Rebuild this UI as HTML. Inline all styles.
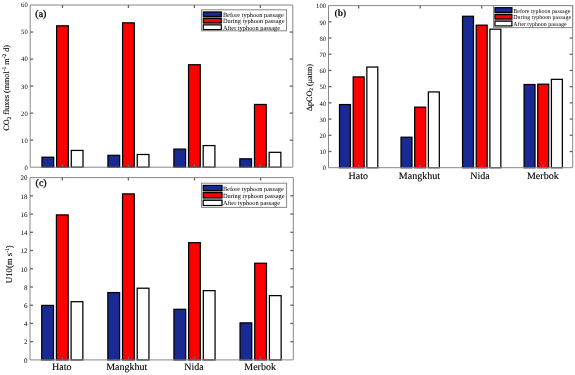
<!DOCTYPE html>
<html><head><meta charset="utf-8"><style>
html,body{margin:0;padding:0;background:#fff;}
body{width:575px;height:375px;overflow:hidden;}
svg{display:block;font-family:"Liberation Serif", serif;}
text{filter:grayscale(1);text-rendering:geometricPrecision;}
</style></head><body>
<svg width="575" height="375" viewBox="0 0 575 375" font-family='"Liberation Serif", serif'>
<rect x="0" y="0" width="575" height="375" fill="#fff"/>
<rect x="41.98" y="157.20" width="11.72" height="10.00" fill="#192a92" stroke="#000" stroke-width="1.25"/>
<rect x="56.64" y="25.82" width="11.72" height="141.38" fill="#ff0000" stroke="#000" stroke-width="1.25"/>
<rect x="71.29" y="150.44" width="11.72" height="16.76" fill="#ffffff" stroke="#000" stroke-width="1.25"/>
<rect x="107.93" y="155.31" width="11.72" height="11.89" fill="#192a92" stroke="#000" stroke-width="1.25"/>
<rect x="122.59" y="22.84" width="11.72" height="144.36" fill="#ff0000" stroke="#000" stroke-width="1.25"/>
<rect x="137.24" y="154.49" width="11.72" height="12.71" fill="#ffffff" stroke="#000" stroke-width="1.25"/>
<rect x="173.88" y="149.09" width="11.72" height="18.11" fill="#192a92" stroke="#000" stroke-width="1.25"/>
<rect x="188.54" y="64.74" width="11.72" height="102.46" fill="#ff0000" stroke="#000" stroke-width="1.25"/>
<rect x="203.19" y="145.57" width="11.72" height="21.63" fill="#ffffff" stroke="#000" stroke-width="1.25"/>
<rect x="239.83" y="158.82" width="11.72" height="8.38" fill="#192a92" stroke="#000" stroke-width="1.25"/>
<rect x="254.49" y="104.48" width="11.72" height="62.72" fill="#ff0000" stroke="#000" stroke-width="1.25"/>
<rect x="269.14" y="152.33" width="11.72" height="14.87" fill="#ffffff" stroke="#000" stroke-width="1.25"/>
<line x1="30.20" y1="5.00" x2="292.80" y2="5.00" stroke="#888888" stroke-width="1.0"/>
<line x1="30.20" y1="167.20" x2="292.80" y2="167.20" stroke="#888888" stroke-width="1.0"/>
<line x1="30.20" y1="5.00" x2="30.20" y2="167.20" stroke="#888888" stroke-width="1.0"/>
<line x1="292.80" y1="5.00" x2="292.80" y2="167.20" stroke="#888888" stroke-width="1.0"/>
<text x="27.70" y="169.63" font-size="6.6" text-anchor="end" font-weight="normal" >0</text>
<line x1="30.20" y1="140.17" x2="33.20" y2="140.17" stroke="#666666" stroke-width="1.3"/>
<line x1="292.80" y1="140.17" x2="289.80" y2="140.17" stroke="#666666" stroke-width="1.3"/>
<text x="27.70" y="142.59" font-size="6.6" text-anchor="end" font-weight="normal" >10</text>
<line x1="30.20" y1="113.13" x2="33.20" y2="113.13" stroke="#666666" stroke-width="1.3"/>
<line x1="292.80" y1="113.13" x2="289.80" y2="113.13" stroke="#666666" stroke-width="1.3"/>
<text x="27.70" y="115.56" font-size="6.6" text-anchor="end" font-weight="normal" >20</text>
<line x1="30.20" y1="86.10" x2="33.20" y2="86.10" stroke="#666666" stroke-width="1.3"/>
<line x1="292.80" y1="86.10" x2="289.80" y2="86.10" stroke="#666666" stroke-width="1.3"/>
<text x="27.70" y="88.53" font-size="6.6" text-anchor="end" font-weight="normal" >30</text>
<line x1="30.20" y1="59.07" x2="33.20" y2="59.07" stroke="#666666" stroke-width="1.3"/>
<line x1="292.80" y1="59.07" x2="289.80" y2="59.07" stroke="#666666" stroke-width="1.3"/>
<text x="27.70" y="61.49" font-size="6.6" text-anchor="end" font-weight="normal" >40</text>
<line x1="30.20" y1="32.03" x2="33.20" y2="32.03" stroke="#666666" stroke-width="1.3"/>
<line x1="292.80" y1="32.03" x2="289.80" y2="32.03" stroke="#666666" stroke-width="1.3"/>
<text x="27.70" y="34.46" font-size="6.6" text-anchor="end" font-weight="normal" >50</text>
<text x="27.70" y="7.43" font-size="6.6" text-anchor="end" font-weight="normal" >60</text>
<line x1="62.50" y1="167.20" x2="62.50" y2="164.20" stroke="#666666" stroke-width="1.3"/>
<line x1="62.50" y1="5.00" x2="62.50" y2="8.00" stroke="#666666" stroke-width="1.3"/>
<line x1="128.45" y1="167.20" x2="128.45" y2="164.20" stroke="#666666" stroke-width="1.3"/>
<line x1="128.45" y1="5.00" x2="128.45" y2="8.00" stroke="#666666" stroke-width="1.3"/>
<line x1="194.40" y1="167.20" x2="194.40" y2="164.20" stroke="#666666" stroke-width="1.3"/>
<line x1="194.40" y1="5.00" x2="194.40" y2="8.00" stroke="#666666" stroke-width="1.3"/>
<line x1="260.35" y1="167.20" x2="260.35" y2="164.20" stroke="#666666" stroke-width="1.3"/>
<line x1="260.35" y1="5.00" x2="260.35" y2="8.00" stroke="#666666" stroke-width="1.3"/>
<text x="35.30" y="17.00" font-size="10" text-anchor="start" font-weight="normal" stroke="#000" stroke-width="0.3">(a)</text>
<text transform="translate(9.40,87.90) rotate(-90)" font-size="8.1" text-anchor="middle" stroke="#000" stroke-width="0.12">CO<tspan font-size="5.5" dy="1.6">2</tspan><tspan dy="-1.6"> fluxes (mmol</tspan><tspan font-size="5.5" dy="-3">-1</tspan><tspan dy="3"> m</tspan><tspan font-size="5.5" dy="-3">-2</tspan><tspan dy="3"> d)</tspan></text>
<rect x="201.50" y="9.80" width="85.00" height="21.00" fill="#fff" stroke="#888888" stroke-width="1.0"/>
<rect x="203.00" y="11.70" width="18.60" height="18.20" fill="#9aacac" stroke="none" stroke-width="0"/>
<rect x="203.30" y="12.00" width="18.00" height="4.50" fill="#192a92" stroke="#000" stroke-width="1.2"/>
<text x="222.90" y="16.60" font-size="6.35" text-anchor="start" font-weight="normal" >Before typhoon passage</text>
<rect x="203.30" y="18.40" width="18.00" height="4.50" fill="#ff0000" stroke="#000" stroke-width="1.2"/>
<text x="222.90" y="23.10" font-size="6.35" text-anchor="start" font-weight="normal" >During typhoon passage</text>
<rect x="203.30" y="24.90" width="18.00" height="4.70" fill="#ffffff" stroke="#000" stroke-width="1.2"/>
<text x="222.90" y="29.50" font-size="6.35" text-anchor="start" font-weight="normal" >After typhoon passage</text>
<rect x="339.51" y="104.56" width="10.94" height="63.14" fill="#192a92" stroke="#000" stroke-width="1.25"/>
<rect x="353.18" y="76.91" width="10.94" height="90.79" fill="#ff0000" stroke="#000" stroke-width="1.25"/>
<rect x="366.85" y="67.05" width="10.94" height="100.65" fill="#ffffff" stroke="#000" stroke-width="1.25"/>
<rect x="401.03" y="137.23" width="10.94" height="30.47" fill="#192a92" stroke="#000" stroke-width="1.25"/>
<rect x="414.70" y="107.16" width="10.94" height="60.54" fill="#ff0000" stroke="#000" stroke-width="1.25"/>
<rect x="428.37" y="91.95" width="10.94" height="75.75" fill="#ffffff" stroke="#000" stroke-width="1.25"/>
<rect x="462.55" y="16.27" width="10.94" height="151.43" fill="#192a92" stroke="#000" stroke-width="1.25"/>
<rect x="476.22" y="25.17" width="10.94" height="142.53" fill="#ff0000" stroke="#000" stroke-width="1.25"/>
<rect x="489.89" y="29.20" width="10.94" height="138.50" fill="#ffffff" stroke="#000" stroke-width="1.25"/>
<rect x="524.07" y="84.51" width="10.94" height="83.19" fill="#192a92" stroke="#000" stroke-width="1.25"/>
<rect x="537.74" y="84.19" width="10.94" height="83.51" fill="#ff0000" stroke="#000" stroke-width="1.25"/>
<rect x="551.41" y="79.34" width="10.94" height="88.36" fill="#ffffff" stroke="#000" stroke-width="1.25"/>
<line x1="328.50" y1="5.60" x2="572.70" y2="5.60" stroke="#888888" stroke-width="1.0"/>
<line x1="328.50" y1="167.70" x2="572.70" y2="167.70" stroke="#888888" stroke-width="1.0"/>
<line x1="328.50" y1="5.60" x2="328.50" y2="167.70" stroke="#888888" stroke-width="1.0"/>
<line x1="572.70" y1="5.60" x2="572.70" y2="167.70" stroke="#888888" stroke-width="1.0"/>
<text x="326.00" y="170.48" font-size="6.6" text-anchor="end" font-weight="normal" >0</text>
<line x1="328.50" y1="151.49" x2="331.50" y2="151.49" stroke="#666666" stroke-width="1.3"/>
<line x1="572.70" y1="151.49" x2="569.70" y2="151.49" stroke="#666666" stroke-width="1.3"/>
<text x="326.00" y="154.27" font-size="6.6" text-anchor="end" font-weight="normal" >10</text>
<line x1="328.50" y1="135.28" x2="331.50" y2="135.28" stroke="#666666" stroke-width="1.3"/>
<line x1="572.70" y1="135.28" x2="569.70" y2="135.28" stroke="#666666" stroke-width="1.3"/>
<text x="326.00" y="138.06" font-size="6.6" text-anchor="end" font-weight="normal" >20</text>
<line x1="328.50" y1="119.07" x2="331.50" y2="119.07" stroke="#666666" stroke-width="1.3"/>
<line x1="572.70" y1="119.07" x2="569.70" y2="119.07" stroke="#666666" stroke-width="1.3"/>
<text x="326.00" y="121.85" font-size="6.6" text-anchor="end" font-weight="normal" >30</text>
<line x1="328.50" y1="102.86" x2="331.50" y2="102.86" stroke="#666666" stroke-width="1.3"/>
<line x1="572.70" y1="102.86" x2="569.70" y2="102.86" stroke="#666666" stroke-width="1.3"/>
<text x="326.00" y="105.64" font-size="6.6" text-anchor="end" font-weight="normal" >40</text>
<line x1="328.50" y1="86.65" x2="331.50" y2="86.65" stroke="#666666" stroke-width="1.3"/>
<line x1="572.70" y1="86.65" x2="569.70" y2="86.65" stroke="#666666" stroke-width="1.3"/>
<text x="326.00" y="89.43" font-size="6.6" text-anchor="end" font-weight="normal" >50</text>
<line x1="328.50" y1="70.44" x2="331.50" y2="70.44" stroke="#666666" stroke-width="1.3"/>
<line x1="572.70" y1="70.44" x2="569.70" y2="70.44" stroke="#666666" stroke-width="1.3"/>
<text x="326.00" y="73.22" font-size="6.6" text-anchor="end" font-weight="normal" >60</text>
<line x1="328.50" y1="54.23" x2="331.50" y2="54.23" stroke="#666666" stroke-width="1.3"/>
<line x1="572.70" y1="54.23" x2="569.70" y2="54.23" stroke="#666666" stroke-width="1.3"/>
<text x="326.00" y="57.01" font-size="6.6" text-anchor="end" font-weight="normal" >70</text>
<line x1="328.50" y1="38.02" x2="331.50" y2="38.02" stroke="#666666" stroke-width="1.3"/>
<line x1="572.70" y1="38.02" x2="569.70" y2="38.02" stroke="#666666" stroke-width="1.3"/>
<text x="326.00" y="40.80" font-size="6.6" text-anchor="end" font-weight="normal" >80</text>
<line x1="328.50" y1="21.81" x2="331.50" y2="21.81" stroke="#666666" stroke-width="1.3"/>
<line x1="572.70" y1="21.81" x2="569.70" y2="21.81" stroke="#666666" stroke-width="1.3"/>
<text x="326.00" y="24.59" font-size="6.6" text-anchor="end" font-weight="normal" >90</text>
<text x="326.00" y="8.38" font-size="6.6" text-anchor="end" font-weight="normal" >100</text>
<line x1="358.65" y1="167.70" x2="358.65" y2="164.70" stroke="#666666" stroke-width="1.3"/>
<line x1="358.65" y1="5.60" x2="358.65" y2="8.60" stroke="#666666" stroke-width="1.3"/>
<text x="358.25" y="178.60" font-size="10.0" text-anchor="middle" font-weight="normal" stroke="#000" stroke-width="0.12">Hato</text>
<line x1="420.17" y1="167.70" x2="420.17" y2="164.70" stroke="#666666" stroke-width="1.3"/>
<line x1="420.17" y1="5.60" x2="420.17" y2="8.60" stroke="#666666" stroke-width="1.3"/>
<text x="419.37" y="178.60" font-size="10.0" text-anchor="middle" font-weight="normal" stroke="#000" stroke-width="0.12">Mangkhut</text>
<line x1="481.69" y1="167.70" x2="481.69" y2="164.70" stroke="#666666" stroke-width="1.3"/>
<line x1="481.69" y1="5.60" x2="481.69" y2="8.60" stroke="#666666" stroke-width="1.3"/>
<text x="480.09" y="178.60" font-size="10.0" text-anchor="middle" font-weight="normal" stroke="#000" stroke-width="0.12">Nida</text>
<line x1="543.21" y1="167.70" x2="543.21" y2="164.70" stroke="#666666" stroke-width="1.3"/>
<line x1="543.21" y1="5.60" x2="543.21" y2="8.60" stroke="#666666" stroke-width="1.3"/>
<text x="542.81" y="178.60" font-size="10.0" text-anchor="middle" font-weight="normal" stroke="#000" stroke-width="0.12">Merbok</text>
<text x="334.60" y="16.10" font-size="9.6" text-anchor="start" font-weight="bold" >(b)</text>
<text transform="translate(311.80,87.70) rotate(-90)" font-size="8.1" text-anchor="middle" stroke="#000" stroke-width="0.12">&#916;pCO<tspan font-size="5.5" dy="1.6">2</tspan><tspan dy="-1.6"> (&#956;atm)</tspan></text>
<rect x="493.50" y="5.60" width="79.10" height="22.00" fill="#fff" stroke="#888888" stroke-width="1.0"/>
<rect x="494.70" y="7.40" width="17.50" height="18.80" fill="#9aacac" stroke="none" stroke-width="0"/>
<rect x="495.00" y="7.70" width="16.90" height="4.70" fill="#192a92" stroke="#000" stroke-width="1.2"/>
<text x="513.30" y="12.60" font-size="5.95" text-anchor="start" font-weight="normal" >Before typhoon passage</text>
<rect x="495.00" y="14.60" width="16.90" height="4.40" fill="#ff0000" stroke="#000" stroke-width="1.2"/>
<text x="513.30" y="19.10" font-size="5.95" text-anchor="start" font-weight="normal" >During typhoon passage</text>
<rect x="495.00" y="21.20" width="16.90" height="4.70" fill="#ffffff" stroke="#000" stroke-width="1.2"/>
<text x="513.30" y="25.60" font-size="5.95" text-anchor="start" font-weight="normal" >After typhoon passage</text>
<rect x="41.74" y="305.41" width="11.75" height="54.49" fill="#192a92" stroke="#000" stroke-width="1.25"/>
<rect x="56.42" y="214.90" width="11.75" height="145.00" fill="#ff0000" stroke="#000" stroke-width="1.25"/>
<rect x="71.11" y="301.70" width="11.75" height="58.20" fill="#ffffff" stroke="#000" stroke-width="1.25"/>
<rect x="107.84" y="292.56" width="11.75" height="67.34" fill="#192a92" stroke="#000" stroke-width="1.25"/>
<rect x="122.52" y="193.90" width="11.75" height="166.00" fill="#ff0000" stroke="#000" stroke-width="1.25"/>
<rect x="137.21" y="288.21" width="11.75" height="71.69" fill="#ffffff" stroke="#000" stroke-width="1.25"/>
<rect x="173.94" y="309.30" width="11.75" height="50.60" fill="#192a92" stroke="#000" stroke-width="1.25"/>
<rect x="188.62" y="242.69" width="11.75" height="117.21" fill="#ff0000" stroke="#000" stroke-width="1.25"/>
<rect x="203.31" y="290.66" width="11.75" height="69.24" fill="#ffffff" stroke="#000" stroke-width="1.25"/>
<rect x="240.04" y="322.88" width="11.75" height="37.02" fill="#192a92" stroke="#000" stroke-width="1.25"/>
<rect x="254.72" y="263.24" width="11.75" height="96.66" fill="#ff0000" stroke="#000" stroke-width="1.25"/>
<rect x="269.41" y="295.64" width="11.75" height="64.26" fill="#ffffff" stroke="#000" stroke-width="1.25"/>
<line x1="30.00" y1="177.60" x2="293.30" y2="177.60" stroke="#888888" stroke-width="1.0"/>
<line x1="30.00" y1="359.90" x2="293.30" y2="359.90" stroke="#888888" stroke-width="1.0"/>
<line x1="30.00" y1="177.60" x2="30.00" y2="359.90" stroke="#888888" stroke-width="1.0"/>
<line x1="293.30" y1="177.60" x2="293.30" y2="359.90" stroke="#888888" stroke-width="1.0"/>
<text x="27.50" y="362.71" font-size="7.0" text-anchor="end" font-weight="normal" >0</text>
<line x1="30.00" y1="341.67" x2="33.00" y2="341.67" stroke="#666666" stroke-width="1.3"/>
<line x1="293.30" y1="341.67" x2="290.30" y2="341.67" stroke="#666666" stroke-width="1.3"/>
<text x="27.50" y="344.48" font-size="7.0" text-anchor="end" font-weight="normal" >2</text>
<line x1="30.00" y1="323.44" x2="33.00" y2="323.44" stroke="#666666" stroke-width="1.3"/>
<line x1="293.30" y1="323.44" x2="290.30" y2="323.44" stroke="#666666" stroke-width="1.3"/>
<text x="27.50" y="326.25" font-size="7.0" text-anchor="end" font-weight="normal" >4</text>
<line x1="30.00" y1="305.21" x2="33.00" y2="305.21" stroke="#666666" stroke-width="1.3"/>
<line x1="293.30" y1="305.21" x2="290.30" y2="305.21" stroke="#666666" stroke-width="1.3"/>
<text x="27.50" y="308.02" font-size="7.0" text-anchor="end" font-weight="normal" >6</text>
<line x1="30.00" y1="286.98" x2="33.00" y2="286.98" stroke="#666666" stroke-width="1.3"/>
<line x1="293.30" y1="286.98" x2="290.30" y2="286.98" stroke="#666666" stroke-width="1.3"/>
<text x="27.50" y="289.79" font-size="7.0" text-anchor="end" font-weight="normal" >8</text>
<line x1="30.00" y1="268.75" x2="33.00" y2="268.75" stroke="#666666" stroke-width="1.3"/>
<line x1="293.30" y1="268.75" x2="290.30" y2="268.75" stroke="#666666" stroke-width="1.3"/>
<text x="27.50" y="271.56" font-size="7.0" text-anchor="end" font-weight="normal" >10</text>
<line x1="30.00" y1="250.52" x2="33.00" y2="250.52" stroke="#666666" stroke-width="1.3"/>
<line x1="293.30" y1="250.52" x2="290.30" y2="250.52" stroke="#666666" stroke-width="1.3"/>
<text x="27.50" y="253.33" font-size="7.0" text-anchor="end" font-weight="normal" >12</text>
<line x1="30.00" y1="232.29" x2="33.00" y2="232.29" stroke="#666666" stroke-width="1.3"/>
<line x1="293.30" y1="232.29" x2="290.30" y2="232.29" stroke="#666666" stroke-width="1.3"/>
<text x="27.50" y="235.10" font-size="7.0" text-anchor="end" font-weight="normal" >14</text>
<line x1="30.00" y1="214.06" x2="33.00" y2="214.06" stroke="#666666" stroke-width="1.3"/>
<line x1="293.30" y1="214.06" x2="290.30" y2="214.06" stroke="#666666" stroke-width="1.3"/>
<text x="27.50" y="216.87" font-size="7.0" text-anchor="end" font-weight="normal" >16</text>
<line x1="30.00" y1="195.83" x2="33.00" y2="195.83" stroke="#666666" stroke-width="1.3"/>
<line x1="293.30" y1="195.83" x2="290.30" y2="195.83" stroke="#666666" stroke-width="1.3"/>
<text x="27.50" y="198.64" font-size="7.0" text-anchor="end" font-weight="normal" >18</text>
<text x="27.50" y="180.41" font-size="7.0" text-anchor="end" font-weight="normal" >20</text>
<line x1="62.30" y1="359.90" x2="62.30" y2="356.90" stroke="#666666" stroke-width="1.3"/>
<line x1="62.30" y1="177.60" x2="62.30" y2="180.60" stroke="#666666" stroke-width="1.3"/>
<text x="61.70" y="369.60" font-size="10.0" text-anchor="middle" font-weight="normal" stroke="#000" stroke-width="0.12">Hato</text>
<line x1="128.40" y1="359.90" x2="128.40" y2="356.90" stroke="#666666" stroke-width="1.3"/>
<line x1="128.40" y1="177.60" x2="128.40" y2="180.60" stroke="#666666" stroke-width="1.3"/>
<text x="126.70" y="369.60" font-size="10.0" text-anchor="middle" font-weight="normal" stroke="#000" stroke-width="0.12">Mangkhut</text>
<line x1="194.50" y1="359.90" x2="194.50" y2="356.90" stroke="#666666" stroke-width="1.3"/>
<line x1="194.50" y1="177.60" x2="194.50" y2="180.60" stroke="#666666" stroke-width="1.3"/>
<text x="194.00" y="369.60" font-size="10.0" text-anchor="middle" font-weight="normal" stroke="#000" stroke-width="0.12">Nida</text>
<line x1="260.60" y1="359.90" x2="260.60" y2="356.90" stroke="#666666" stroke-width="1.3"/>
<line x1="260.60" y1="177.60" x2="260.60" y2="180.60" stroke="#666666" stroke-width="1.3"/>
<text x="260.10" y="369.60" font-size="10.0" text-anchor="middle" font-weight="normal" stroke="#000" stroke-width="0.12">Merbok</text>
<text x="35.60" y="186.10" font-size="10" text-anchor="start" font-weight="normal" stroke="#000" stroke-width="0.3">(c)</text>
<text transform="translate(11.70,264.20) rotate(-90)" font-size="8.75" text-anchor="middle" stroke="#000" stroke-width="0.12">U10(m s<tspan font-size="5.5" dy="-3">-1</tspan><tspan dy="3">)</tspan></text>
<rect x="201.50" y="183.20" width="85.10" height="24.20" fill="#fff" stroke="#888888" stroke-width="1.0"/>
<rect x="202.90" y="185.10" width="19.40" height="20.70" fill="#9aacac" stroke="none" stroke-width="0"/>
<rect x="203.20" y="185.40" width="18.80" height="5.20" fill="#192a92" stroke="#000" stroke-width="1.2"/>
<text x="222.90" y="190.90" font-size="6.35" text-anchor="start" font-weight="normal" >Before typhoon passage</text>
<rect x="203.20" y="192.60" width="18.80" height="5.20" fill="#ff0000" stroke="#000" stroke-width="1.2"/>
<text x="222.90" y="198.00" font-size="6.35" text-anchor="start" font-weight="normal" >During typhoon passage</text>
<rect x="203.20" y="200.30" width="18.80" height="5.20" fill="#ffffff" stroke="#000" stroke-width="1.2"/>
<text x="222.90" y="205.00" font-size="6.35" text-anchor="start" font-weight="normal" >After typhoon passage</text>
</svg>
</body></html>
